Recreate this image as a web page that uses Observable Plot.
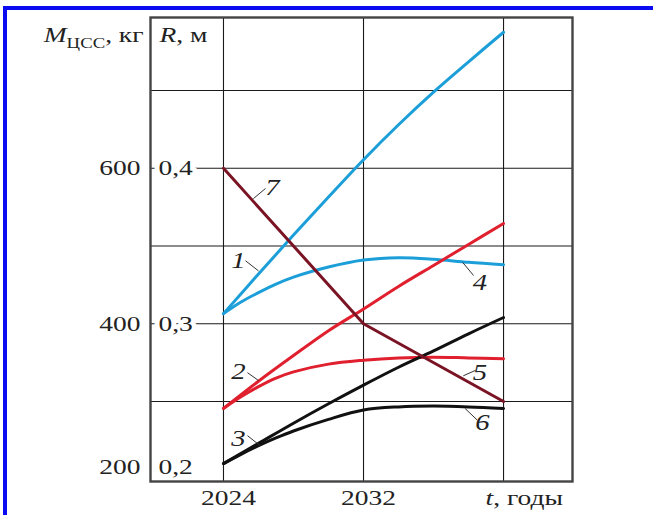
<!DOCTYPE html>
<html><head><meta charset="utf-8">
<script src="https://cdn.jsdelivr.net/npm/d3@7"></script>
<script src="https://cdn.jsdelivr.net/npm/@observablehq/plot@0.6"></script>
<style>
html,body{margin:0;padding:0;background:#fff;}
#wrap{position:relative;width:653px;height:515px;overflow:hidden;background:#fff;}
#chart{position:absolute;left:0;top:0;}
#border{position:absolute;left:3px;top:6px;width:700px;height:600px;border-top:4px solid #0b0bf2;border-left:4px solid #0b0bf2;pointer-events:none;}
</style></head><body>
<div id="wrap"><div id="chart"></div><div id="border"></div></div>
<script>
// ---- data ----
const xDomain = [2019.83, 2043.94];
const yDomain = [197, 794];
const xGrid = [2024, 2032, 2040];
const yGrid = [300, 400, 500, 600, 700];
const xTicks = [2024, 2032];
const xTickLabels = ["2024", "2032"];
const xAxisLabelAt = [2040];
const xAxisLabel = "t, годы";
const kgTicks = [200, 400, 600];
const rTicks = ["0,2", "0,3", "0,4"];
const yLabelKg = "MЦСС, кг";
const yLabelR = "R, м";

const yearsA = [2024, 2026, 2028, 2030, 2032, 2034, 2036, 2038, 2040];
const yearsB = [2024, 2025, 2026, 2027, 2028, 2030, 2032, 2034, 2036, 2038, 2040];
const years7 = [2024, 2032, 2040];

const curve1 = [413, 464, 514, 563, 611, 656, 698, 737, 775];
const curve2 = [291, 326, 359, 391, 419, 448, 475, 502, 529];
const curve3 = [220, 246, 272, 297, 321, 344, 365, 387, 408];
const curve4 = [413, 428, 440, 451, 460, 473, 482, 485, 483, 479, 476];
const curve5 = [291, 306, 319, 330, 338, 348, 353, 356, 357, 356, 355];
const curve6 = [220, 232, 243, 253, 262, 277, 289, 293, 294, 293, 291];
const curve7 = [600, 400, 300];

const labelText = ["1", "2", "3", "4", "5", "6", "7"];
const labelYear = [2024.86, 2024.86, 2024.86, 2038.65, 2038.65, 2038.8, 2026.8];
const labelKg   = [481, 338, 252, 453, 337, 273, 575];

const leaderX1 = [2025.26, 2025.37, 2025.37, 2037.66, 2037.70, 2037.80, 2025.71];
const leaderY1 = [481, 337, 256, 479, 333, 291, 561];
const leaderX2 = [2026.0, 2026.0, 2026.1, 2038.29, 2038.40, 2038.50, 2026.40];
const leaderY2 = [468, 327, 243, 462, 340, 276, 574];

const cyan = "#1c9fd8", red = "#e0202e", maroon = "#7a1424", black = "#111111";

// ---- build ----
const rows = (xs, ys) => xs.map((x, i) => ({x, y: ys[i]}));
const series = [
  {d: rows(yearsA, curve1), c: cyan, curve: "catmull-rom"},
  {d: rows(yearsB, curve4), c: cyan, curve: "catmull-rom"},
  {d: rows(yearsA, curve2), c: red, curve: "catmull-rom"},
  {d: rows(yearsB, curve5), c: red, curve: "catmull-rom"},
  {d: rows(yearsA, curve3), c: black, curve: "catmull-rom"},
  {d: rows(yearsB, curve6), c: black, curve: "catmull-rom"},
  {d: rows(years7, curve7), c: maroon, curve: "linear"}
];
const labels = labelText.map((t, i) => ({t, x: labelYear[i], y: labelKg[i]}));
const leaders = leaderX1.map((x1, i) => ({x1, y1: leaderY1[i], x2: leaderX2[i], y2: leaderY2[i]}));
const tickRows = kgTicks.map((k, i) => ({kg: k, r: rTicks[i]}));
const xTickRows = xTicks.map((x, i) => ({x, t: xTickLabels[i]}));

const plot = Plot.plot({
  width: 653, height: 515,
  marginLeft: 150, marginRight: 81, marginTop: 17, marginBottom: 34,
  x: {domain: xDomain, axis: null},
  y: {domain: yDomain, axis: null},
  style: {fontFamily: "'Liberation Serif', 'Times New Roman', serif", fontSize: "22px", color: "#222", background: "transparent", overflow: "visible"},
  marks: [
    Plot.ruleX(xGrid, {stroke: "#1a1a1a", strokeWidth: 1.1}),
    Plot.ruleY(yGrid, {stroke: "#1a1a1a", strokeWidth: 1.1}),
    ...series.map(s => Plot.line(s.d, {x: "x", y: "y", stroke: s.c, strokeWidth: 3, curve: s.curve})),
    Plot.link(leaders, {x1: "x1", y1: "y1", x2: "x2", y2: "y2", stroke: "#333", strokeWidth: 1}),
    Plot.text(labels, {x: "x", y: "y", text: "t", fontStyle: "italic", fontSize: 23, fill: "#222"}),
    Plot.frame({stroke: "#444", strokeWidth: 2.4}),
    // kg labels
    Plot.text(tickRows, {filter: d => d.kg !== kgTicks[0], y: "kg", text: d => String(d.kg), frameAnchor: "left", textAnchor: "end", dx: -10, fill: "#222"}),
    Plot.text(tickRows, {filter: d => d.kg === kgTicks[0], y: "kg", text: d => String(d.kg), frameAnchor: "left", textAnchor: "end", dx: -10, dy: -12, fill: "#222"}),
    // R labels
    Plot.text(tickRows, {filter: d => d.kg !== kgTicks[0], y: "kg", text: "r", frameAnchor: "left", textAnchor: "start", dx: 8, fill: "#222", stroke: "white", strokeWidth: 8, paintOrder: "stroke"}),
    Plot.text(tickRows, {filter: d => d.kg === kgTicks[0], y: "kg", text: "r", frameAnchor: "left", textAnchor: "start", dx: 8, dy: -12, fill: "#222"}),
    // x labels
    Plot.text(xTickRows, {x: "x", text: "t", frameAnchor: "bottom", lineAnchor: "middle", dy: 16, dx: 5, fill: "#222"}),
    Plot.text(xAxisLabelAt, {x: d => d, text: () => xAxisLabel, frameAnchor: "bottom", lineAnchor: "middle", textAnchor: "start", dy: 16, dx: -18, fill: "#222"}),
    // axis titles
    Plot.text([yLabelKg], {text: d => d, frameAnchor: "top-left", textAnchor: "end", lineAnchor: "middle", dx: -7, dy: 17, fill: "#222"}),
    Plot.text([yLabelR], {text: d => d, frameAnchor: "top-left", textAnchor: "start", lineAnchor: "middle", dx: 9, dy: 17, fill: "#222"})
  ]
});

// horizontal stretch of the typeset text (reference glyphs are wide)
const SX = 1.25;
const svgns = "http://www.w3.org/2000/svg";
function rich(t, parts) {
  t.textContent = "";
  parts.forEach(p => {
    const s = document.createElementNS(svgns, "tspan");
    s.textContent = p.text;
    if (p.italic) s.setAttribute("font-style", "italic");
    if (p.size) s.setAttribute("font-size", p.size);
    if (p.dy) s.setAttribute("dy", p.dy);
    t.appendChild(s);
  });
}
plot.querySelectorAll("text").forEach(t => {
  const tr = t.getAttribute("transform");
  if (tr) t.setAttribute("transform", tr + ` scale(${SX},1)`);
  else {
    const x = parseFloat(t.getAttribute("x")) || 0, y = parseFloat(t.getAttribute("y")) || 0;
    t.removeAttribute("x"); t.removeAttribute("y");
    t.setAttribute("transform", `translate(${x},${y}) scale(${SX},1)`);
  }
  const s = t.textContent;
  if (s === yLabelKg) rich(t, [{text: "M", italic: true}, {text: "ЦСС", size: 15, dy: 6}, {text: ", кг", dy: -6}]);
  else if (s === yLabelR) rich(t, [{text: "R", italic: true}, {text: ", м"}]);
  else if (s === xAxisLabel) rich(t, [{text: "t", italic: true}, {text: ", годы"}]);
});
document.getElementById("chart").appendChild(plot);
</script>
</body></html>
